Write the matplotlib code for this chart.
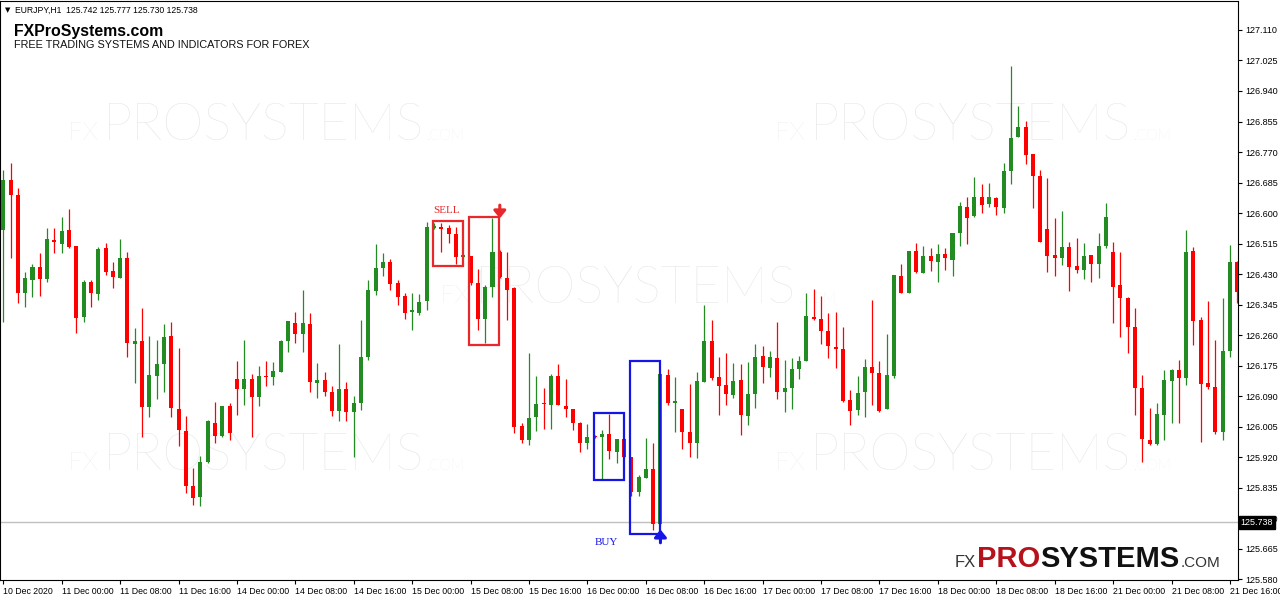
import matplotlib
matplotlib.use("Agg")
import matplotlib.pyplot as plt
from matplotlib.patches import Rectangle
import numpy as np

# EURJPY H1 candles
opens = [126.553, 126.692, 126.650, 126.377, 126.413, 126.449, 126.416, 126.525, 126.514, 126.553,
         126.508, 126.310, 126.408, 126.374, 126.502, 126.438, 126.419, 126.475, 126.235, 126.243,
         126.059, 126.146, 126.179, 126.257, 126.054, 125.992, 125.839, 125.808, 125.906, 126.015,
         125.979, 126.062, 126.137, 126.109, 126.137, 126.087, 126.146, 126.143, 126.157, 126.243,
         126.293, 126.263, 126.291, 126.126, 126.134, 126.101, 126.048, 126.110, 126.045, 126.070,
         126.200, 126.382, 126.447, 126.463, 126.405, 126.369, 126.324, 126.321, 126.355, 126.558,
         126.561, 126.558, 126.541, 126.477, 126.480, 126.405, 126.305, 126.394, 126.491, 126.419,
         126.391, 126.006, 125.967, 126.031, 126.070, 126.065, 126.146, 126.062, 126.054, 126.015,
         125.959, 125.979, 125.976, 125.984, 125.934, 125.970, 125.920, 125.823, 125.861, 125.886,
         125.733, 126.148, 126.070, 126.054, 125.990, 125.959, 126.129, 126.243, 126.143, 126.121,
         126.093, 126.134, 126.034, 126.096, 126.201, 126.168, 126.196, 126.101, 126.112, 126.165,
         126.188, 126.310, 126.305, 126.271, 126.226, 126.221, 126.079, 126.051, 126.101, 126.171,
         126.154, 126.054, 126.146, 126.424, 126.377, 126.494, 126.433, 126.480, 126.463, 126.486,
         126.469, 126.544, 126.617, 126.592, 126.645, 126.625, 126.642, 126.614, 126.717, 126.812,
         126.840, 126.764, 126.703, 126.555, 126.483, 126.474, 126.505, 126.452, 126.441, 126.483,
         126.458, 126.508, 126.491, 126.399, 126.363, 126.282, 126.112, 125.967, 125.956, 126.037,
         126.132, 126.162, 126.140, 126.494, 126.302, 126.126, 126.115, 125.990, 126.215, 126.463]
highs = [126.720, 126.739, 126.670, 126.436, 126.458, 126.489, 126.558, 126.558, 126.589, 126.611,
         126.508, 126.413, 126.413, 126.505, 126.516, 126.463, 126.528, 126.491, 126.280, 126.335,
         126.257, 126.246, 126.291, 126.296, 126.224, 126.034, 125.889, 125.923, 126.023, 126.073,
         126.062, 126.070, 126.188, 126.246, 126.151, 126.174, 126.188, 126.185, 126.246, 126.299,
         126.324, 126.385, 126.321, 126.182, 126.157, 126.118, 126.235, 126.130, 126.090, 126.302,
         126.413, 126.514, 126.489, 126.472, 126.413, 126.377, 126.377, 126.374, 126.575, 126.572,
         126.572, 126.566, 126.561, 126.486, 126.480, 126.444, 126.400, 126.586, 126.497, 126.491,
         126.394, 126.015, 126.210, 126.146, 126.112, 126.151, 126.179, 126.137, 126.054, 126.018,
         126.012, 125.981, 125.995, 126.040, 125.970, 125.972, 125.920, 125.870, 125.973, 125.959,
         126.151, 126.165, 126.143, 126.054, 126.123, 126.157, 126.344, 126.302, 126.199, 126.210,
         126.182, 126.179, 126.185, 126.235, 126.229, 126.215, 126.296, 126.190, 126.196, 126.201,
         126.377, 126.388, 126.369, 126.321, 126.324, 126.282, 126.107, 126.146, 126.193, 126.357,
         126.188, 126.263, 126.427, 126.458, 126.494, 126.516, 126.508, 126.502, 126.514, 126.502,
         126.544, 126.631, 126.645, 126.700, 126.681, 126.684, 126.645, 126.739, 127.010, 126.898,
         126.856, 126.764, 126.720, 126.698, 126.586, 126.606, 126.519, 126.530, 126.516, 126.483,
         126.544, 126.628, 126.519, 126.491, 126.366, 126.335, 126.148, 126.056, 126.070, 126.162,
         126.165, 126.190, 126.553, 126.505, 126.310, 126.355, 126.246, 126.363, 126.511, 126.466]
lows = [126.296, 126.474, 126.349, 126.338, 126.366, 126.369, 126.408, 126.489, 126.489, 126.502,
        126.265, 126.296, 126.338, 126.357, 126.427, 126.391, 126.419, 126.199, 126.126, 125.976,
        126.031, 126.082, 126.101, 126.031, 125.951, 125.820, 125.786, 125.783, 125.903, 125.959,
        125.976, 125.967, 126.037, 126.065, 125.976, 126.062, 126.118, 126.121, 126.157, 126.213,
        126.238, 126.213, 126.101, 126.084, 126.090, 126.034, 126.020, 126.020, 125.920, 126.050,
        126.190, 126.371, 126.424, 126.385, 126.344, 126.305, 126.274, 126.316, 126.330, 126.555,
        126.491, 126.516, 126.458, 126.474, 126.400, 126.274, 126.238, 126.366, 126.420, 126.302,
        125.987, 125.959, 125.954, 125.992, 125.998, 125.998, 126.065, 126.031, 125.995, 125.934,
        125.942, 125.973, 125.858, 125.914, 125.903, 125.917, 125.811, 125.811, 125.861, 125.716,
        125.730, 126.065, 125.990, 125.942, 125.920, 125.917, 126.129, 126.134, 126.037, 126.065,
        126.084, 125.981, 126.009, 126.056, 126.126, 126.143, 126.082, 126.045, 126.054, 126.137,
        126.188, 126.302, 126.235, 126.196, 126.168, 126.073, 126.009, 126.037, 126.031, 126.065,
        126.045, 126.054, 126.140, 126.377, 126.377, 126.433, 126.433, 126.438, 126.408, 126.441,
        126.424, 126.508, 126.514, 126.589, 126.600, 126.617, 126.594, 126.600, 126.681, 126.812,
        126.737, 126.614, 126.519, 126.436, 126.424, 126.455, 126.383, 126.433, 126.416, 126.408,
        126.419, 126.502, 126.293, 126.254, 126.210, 126.037, 125.906, 125.954, 125.954, 125.967,
        126.015, 126.015, 126.121, 126.232, 125.962, 126.109, 125.984, 125.967, 126.199, 126.349]
closes = [126.692, 126.650, 126.377, 126.419, 126.449, 126.416, 126.528, 126.519, 126.550, 126.505,
          126.307, 126.408, 126.377, 126.500, 126.436, 126.422, 126.475, 126.238, 126.243, 126.059,
          126.148, 126.179, 126.254, 126.056, 125.995, 125.839, 125.806, 125.906, 126.020, 125.979,
          126.062, 125.987, 126.109, 126.137, 126.087, 126.146, 126.143, 126.160, 126.243, 126.299,
          126.263, 126.293, 126.129, 126.134, 126.101, 126.048, 126.110, 126.045, 126.070, 126.200,
          126.385, 126.447, 126.463, 126.402, 126.366, 126.321, 126.330, 126.352, 126.561, 126.564,
          126.555, 126.541, 126.477, 126.483, 126.405, 126.305, 126.394, 126.491, 126.422, 126.385,
          126.004, 125.967, 126.029, 126.068, 126.068, 126.146, 126.065, 126.054, 126.015, 125.959,
          125.976, 125.976, 125.984, 125.937, 125.970, 125.920, 125.823, 125.864, 125.886, 125.733,
          126.151, 126.070, 126.076, 125.990, 125.959, 126.132, 126.243, 126.140, 126.118, 126.096,
          126.132, 126.037, 126.096, 126.199, 126.171, 126.199, 126.101, 126.112, 126.165, 126.188,
          126.313, 126.305, 126.271, 126.229, 126.221, 126.076, 126.048, 126.098, 126.171, 126.154,
          126.048, 126.148, 126.427, 126.377, 126.494, 126.436, 126.480, 126.466, 126.486, 126.474,
          126.544, 126.619, 126.586, 126.645, 126.622, 126.645, 126.617, 126.717, 126.809, 126.840,
          126.762, 126.703, 126.519, 126.480, 126.474, 126.505, 126.449, 126.441, 126.480, 126.458,
          126.508, 126.589, 126.394, 126.363, 126.282, 126.112, 125.970, 125.956, 126.040, 126.134,
          126.162, 126.140, 126.491, 126.299, 126.123, 126.115, 125.990, 126.215, 126.463, 126.380]

price_ticks = [127.110, 127.025, 126.940, 126.855, 126.770, 126.685, 126.600, 126.515, 126.430,
               126.345, 126.260, 126.175, 126.090, 126.005, 125.920, 125.835, 125.750, 125.665, 125.580]
time_bars = [0, 8, 16, 24, 32, 40, 48, 56, 64, 72, 80, 88, 96, 104, 112, 120, 128, 136, 144, 152, 160, 168]
time_labels = ["10 Dec 2020", "11 Dec 00:00", "11 Dec 08:00", "11 Dec 16:00", "14 Dec 00:00",
               "14 Dec 08:00", "14 Dec 16:00", "15 Dec 00:00", "15 Dec 08:00", "15 Dec 16:00",
               "16 Dec 00:00", "16 Dec 08:00", "16 Dec 16:00", "17 Dec 00:00", "17 Dec 08:00",
               "17 Dec 16:00", "18 Dec 00:00", "18 Dec 08:00", "18 Dec 16:00", "21 Dec 00:00",
               "21 Dec 08:00", "21 Dec 16:00"]
bid = 125.738

# signal boxes: (first bar edge, last bar edge, low, high)
sell_boxes = [(58.85, 63.0, 126.452, 126.578), (63.8, 67.9, 126.232, 126.589)]
buy_boxes = [(80.9, 85.0, 125.856, 126.043), (85.8, 89.95, 125.705, 126.188)]

GREEN = "#228b22"
RED = "#ff0000"
W, H = 1280, 600

fig = plt.figure(figsize=(12.8, 6), dpi=100)
ax = fig.add_axes([0, 20 / H, 1238 / W, 579 / H])
renderer = fig.canvas.get_renderer()

o = np.array(opens); hi = np.array(highs); lo = np.array(lows); c = np.array(closes)
x = np.arange(len(o))
cols = np.where(c >= o, GREEN, RED)

ax.vlines(x, lo, hi, colors=cols, linewidth=0.9, zorder=3)
bottom = np.minimum(o, c)
height = np.maximum(np.abs(c - o), 0.003)
ax.bar(x, height, bottom=bottom, width=0.55, color=cols, linewidth=0, zorder=4)

ax.axhline(bid, color="#c0c0c0", linewidth=1, zorder=2)

for x0, x1, y0, y1 in sell_boxes:
    ax.add_patch(Rectangle((x0, y0), x1 - x0, y1 - y0, fill=False, edgecolor="#e8282a", linewidth=1.6, zorder=5))
for x0, x1, y0, y1 in buy_boxes:
    ax.add_patch(Rectangle((x0, y0), x1 - x0, y1 - y0, fill=False, edgecolor="#1515e6", linewidth=1.6, zorder=5))

ax.text(60.7, 126.608, "SELL", color="#e8282a", fontsize=8, family="Liberation Serif", ha="center", va="center")
ax.text(82.6, 125.683, "BUY", color="#1515e6", fontsize=8, family="Liberation Serif", ha="center", va="center")
arrow = dict(arrowstyle="-|>,head_length=0.55,head_width=0.45", mutation_scale=8, lw=2.2,
             shrinkA=0, shrinkB=0)
ax.annotate("", xy=(68.0, 126.585), xytext=(68.0, 126.622), arrowprops=dict(arrow, color="#e8282a"))
ax.annotate("", xy=(90.0, 125.718), xytext=(90.0, 125.681), arrowprops=dict(arrow, color="#1515e6"))

ax.set_xlim(-0.45, 169.1)
ax.set_ylim(125.5773, 127.1908)

ax.yaxis.tick_right()
ax.set_yticks(price_ticks)
ax.set_yticklabels([f"{v:.3f}" for v in price_ticks], fontsize=6.5, family="Liberation Sans")
ax.set_xticks(time_bars)
ax.set_xticklabels(time_labels, fontsize=6.3, family="Liberation Sans")
for lbl in ax.get_xticklabels():
    lbl.set_ha("left")
ax.tick_params(axis="x", length=3, width=0.8, pad=2)
ax.tick_params(axis="y", length=3, width=0.8, pad=2)
for s in ax.spines.values():
    s.set_linewidth(0.8)
    s.set_color("black")

# bid label on the price axis (covers the 125.750 label like the terminal does)
ax.text(1.002, bid, "125.738", transform=ax.get_yaxis_transform(), fontsize=6.5, family="Liberation Sans",
        color="white", va="center", ha="left", zorder=10,
        bbox=dict(boxstyle="square,pad=0.2", facecolor="black", edgecolor="black"), clip_on=False)


def put(owner, xp, yp, s, width=None, **kw):
    """place text at pixel (xp, yp) baseline; optionally scale it to a pixel width"""
    t = owner.text(xp / W, 1 - yp / H, s, transform=fig.transFigure, va="baseline", **kw)
    if width:
        w = t.get_window_extent(renderer).width
        t.set_fontsize(t.get_fontsize() * width / w)
    return t


# watermarks: (left x, baseline y)
WM = "#e4e4e4"
wm_parts = [("FX", 0, 30, 16), ("PROSYSTEMS", 35, 322, 33), (".COM", 359, 38, 14)]
for (wx, wy) in [(68, 140), (775, 140), (440, 303), (68, 470), (775, 470)]:
    for s, dx, wpx, size in wm_parts:
        put(ax, wx + dx, wy, s, width=wpx, fontsize=size, color=WM, family="Lato",
            weight="light", zorder=1)

# header
fig.text(5 / W, 1 - 12 / H, "\u25BC", fontsize=5, color="black", va="baseline")
put(fig, 15, 13, "EURJPY,H1  125.742 125.777 125.730 125.738", width=182, fontsize=6.5,
    family="Liberation Sans", color="black")
put(fig, 14, 36, "FXProSystems.com", width=149, fontsize=12.5, family="Liberation Sans",
    weight="bold", color="black")
put(fig, 14, 48, "FREE TRADING SYSTEMS AND INDICATORS FOR FOREX", width=299, fontsize=7.3,
    family="Liberation Sans", color="#111111")

# bottom-right logo
put(fig, 955, 567, "FX", fontsize=12, family="Liberation Sans", color="#333333")
t = put(fig, 977, 567, "PRO", fontsize=21, family="Liberation Sans", weight="bold", color="#b5121b")
t = put(fig, t.get_window_extent(renderer).x1, 567, "SYSTEMS", fontsize=21, family="Liberation Sans",
        weight="bold", color="#111111")
put(fig, t.get_window_extent(renderer).x1 + 1, 567, ".COM", fontsize=11, family="Liberation Sans", color="#333333")

fig.savefig("out.png", dpi=100, facecolor="white")
